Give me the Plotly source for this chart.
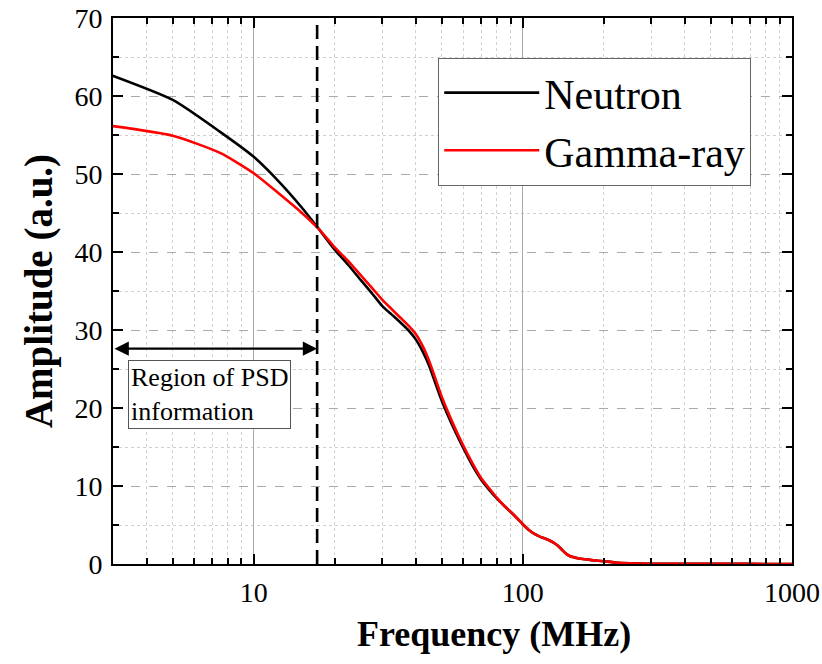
import math
import plotly.graph_objects as go

# ---------------- data ----------------
freq_mhz = [2.5, 5, 7.5, 10, 12.5, 15, 17.5, 20, 22.5, 25, 27.5, 30, 32.5, 35, 37.5,
            40, 42.5, 45, 47.5, 50, 55, 60, 65, 70, 75, 80, 85, 90, 95, 100, 105,
            110, 115, 120, 125, 130, 135, 140, 145, 150, 160, 170, 180, 200, 220,
            250, 300, 400, 500, 700, 1000]

neutron_amp = [63.6, 59.5, 55.4, 52.2, 48.9, 45.8, 42.9, 40.3, 38.3, 36.4, 34.7, 33.1,
               32.0, 31.0, 30.0, 28.8, 27.2, 25.3, 23.0, 20.9, 17.6, 14.9, 12.6, 10.8,
               9.5, 8.4, 7.5, 6.7, 5.9, 5.1, 4.4, 3.9, 3.55, 3.3, 3.05, 2.75, 2.35, 1.8,
               1.3, 1.0, 0.75, 0.6, 0.5, 0.35, 0.2, 0.1, 0.04, 0.02, 0.01, 0.01, 0.0]

gamma_amp = [56.5, 54.9, 52.7, 50.1, 47.4, 45.1, 42.9, 40.6, 38.8, 37.0, 35.4, 33.9,
             32.7, 31.6, 30.6, 29.5, 27.9, 25.9, 23.6, 21.4, 18.0, 15.2, 12.9, 11.0,
             9.7, 8.5, 7.5, 6.7, 5.9, 5.1, 4.4, 3.9, 3.55, 3.3, 3.05, 2.75, 2.35, 1.8,
             1.3, 1.0, 0.75, 0.6, 0.5, 0.35, 0.2, 0.1, 0.04, 0.02, 0.01, 0.01, 0.0]

series_names = ["Neutron", "Gamma-ray"]
series_colors = ["#000000", "#ff0000"]

x_tick_vals = [10, 100, 1000]
x_tick_text = ["10", "100", "1000"]
x_range = [3, 1000]
y_range = [0, 70]

x_title = "Frequency (MHz)"
y_title = "Amplitude (a.u.)"

psd_limit_mhz = 17.2      # vertical dashed line
arrow_level = 27.6        # double arrow height
box_x, box_y = 3.42, 26.2 # text box anchor (top-left)
box_text = "Region of PSD<br>information"

FONT = "Liberation Serif"

fig = go.Figure()
for name, ys, col in zip(series_names, [neutron_amp, gamma_amp], series_colors):
    fig.add_trace(go.Scatter(x=freq_mhz, y=ys, mode="lines", name=name,
                             line=dict(color=col, width=2.6, shape="spline", smoothing=0.6)))

# vertical dashed line
fig.add_trace(go.Scatter(x=[psd_limit_mhz, psd_limit_mhz], y=y_range, mode="lines",
                         line=dict(color="black", width=2.6, dash="14px,7px"),
                         showlegend=False, hoverinfo="skip"))

# double-headed arrow
fig.add_annotation(x=math.log10(psd_limit_mhz), y=arrow_level,
                   ax=math.log10(x_range[0]), ay=arrow_level,
                   xref="x", yref="y", axref="x", ayref="y",
                   text="", showarrow=True, arrowhead=2, arrowside="end+start",
                   arrowsize=1.3, arrowwidth=2.2, arrowcolor="black",
                   standoff=0, startstandoff=0)

# text box
fig.add_annotation(x=math.log10(box_x), y=box_y, xref="x", yref="y",
                   text=box_text, showarrow=False, xanchor="left", yanchor="top",
                   align="left", font=dict(family=FONT, size=26, color="black"),
                   bordercolor="#555555", borderwidth=1, borderpad=2,
                   bgcolor="white")

# x-axis title (offset to the right as in the original)
fig.add_annotation(x=0.561, y=-0.128, xref="paper", yref="paper",
                   text="<b>" + x_title + "</b>", showarrow=False,
                   xanchor="center", yanchor="middle",
                   font=dict(family=FONT, size=36, color="black"))

axis_common = dict(
    showline=True, linecolor="black", linewidth=2, mirror="allticks",
    ticks="inside", ticklen=10, tickwidth=2, tickcolor="black",
    zeroline=False, automargin=False,
)

fig.update_xaxes(
    type="log", range=[math.log10(x_range[0]), math.log10(x_range[1])],
    tickvals=x_tick_vals, ticktext=x_tick_text,
    tickfont=dict(family=FONT, size=28, color="black"),
    ticklabelstandoff=2,
    showgrid=True, gridcolor="#aaaaaa", gridwidth=1,
    minor=dict(ticks="inside", ticklen=6, tickwidth=2, tickcolor="black",
               dtick="D1", showgrid=True, gridcolor="#d0d0d0", griddash="dot",
               gridwidth=1),
    **axis_common,
)

fig.update_yaxes(
    range=y_range, dtick=10,
    tickfont=dict(family=FONT, size=28, color="black"),
    ticklabelstandoff=3,
    showgrid=True, gridcolor="#aaaaaa", gridwidth=1, griddash="dash",
    minor=dict(ticks="inside", ticklen=6, tickwidth=2, tickcolor="black",
               dtick=5, showgrid=True, gridcolor="#d0d0d0", griddash="dot",
               gridwidth=1),
    title=dict(text="<b>" + y_title + "</b>", font=dict(family=FONT, size=39, color="black"),
               standoff=10),
    **axis_common,
)

fig.update_layout(
    width=822, height=664,
    margin=dict(l=113, r=30, t=18, b=100),
    paper_bgcolor="white", plot_bgcolor="white",
    showlegend=True,
    legend=dict(x=0.479, y=0.927, xanchor="left", yanchor="top",
                font=dict(family=FONT, size=42, color="black"),
                bgcolor="white", bordercolor="#666666", borderwidth=1,
                itemwidth=95, tracegroupgap=0),
)

fig.write_html("out.html")
